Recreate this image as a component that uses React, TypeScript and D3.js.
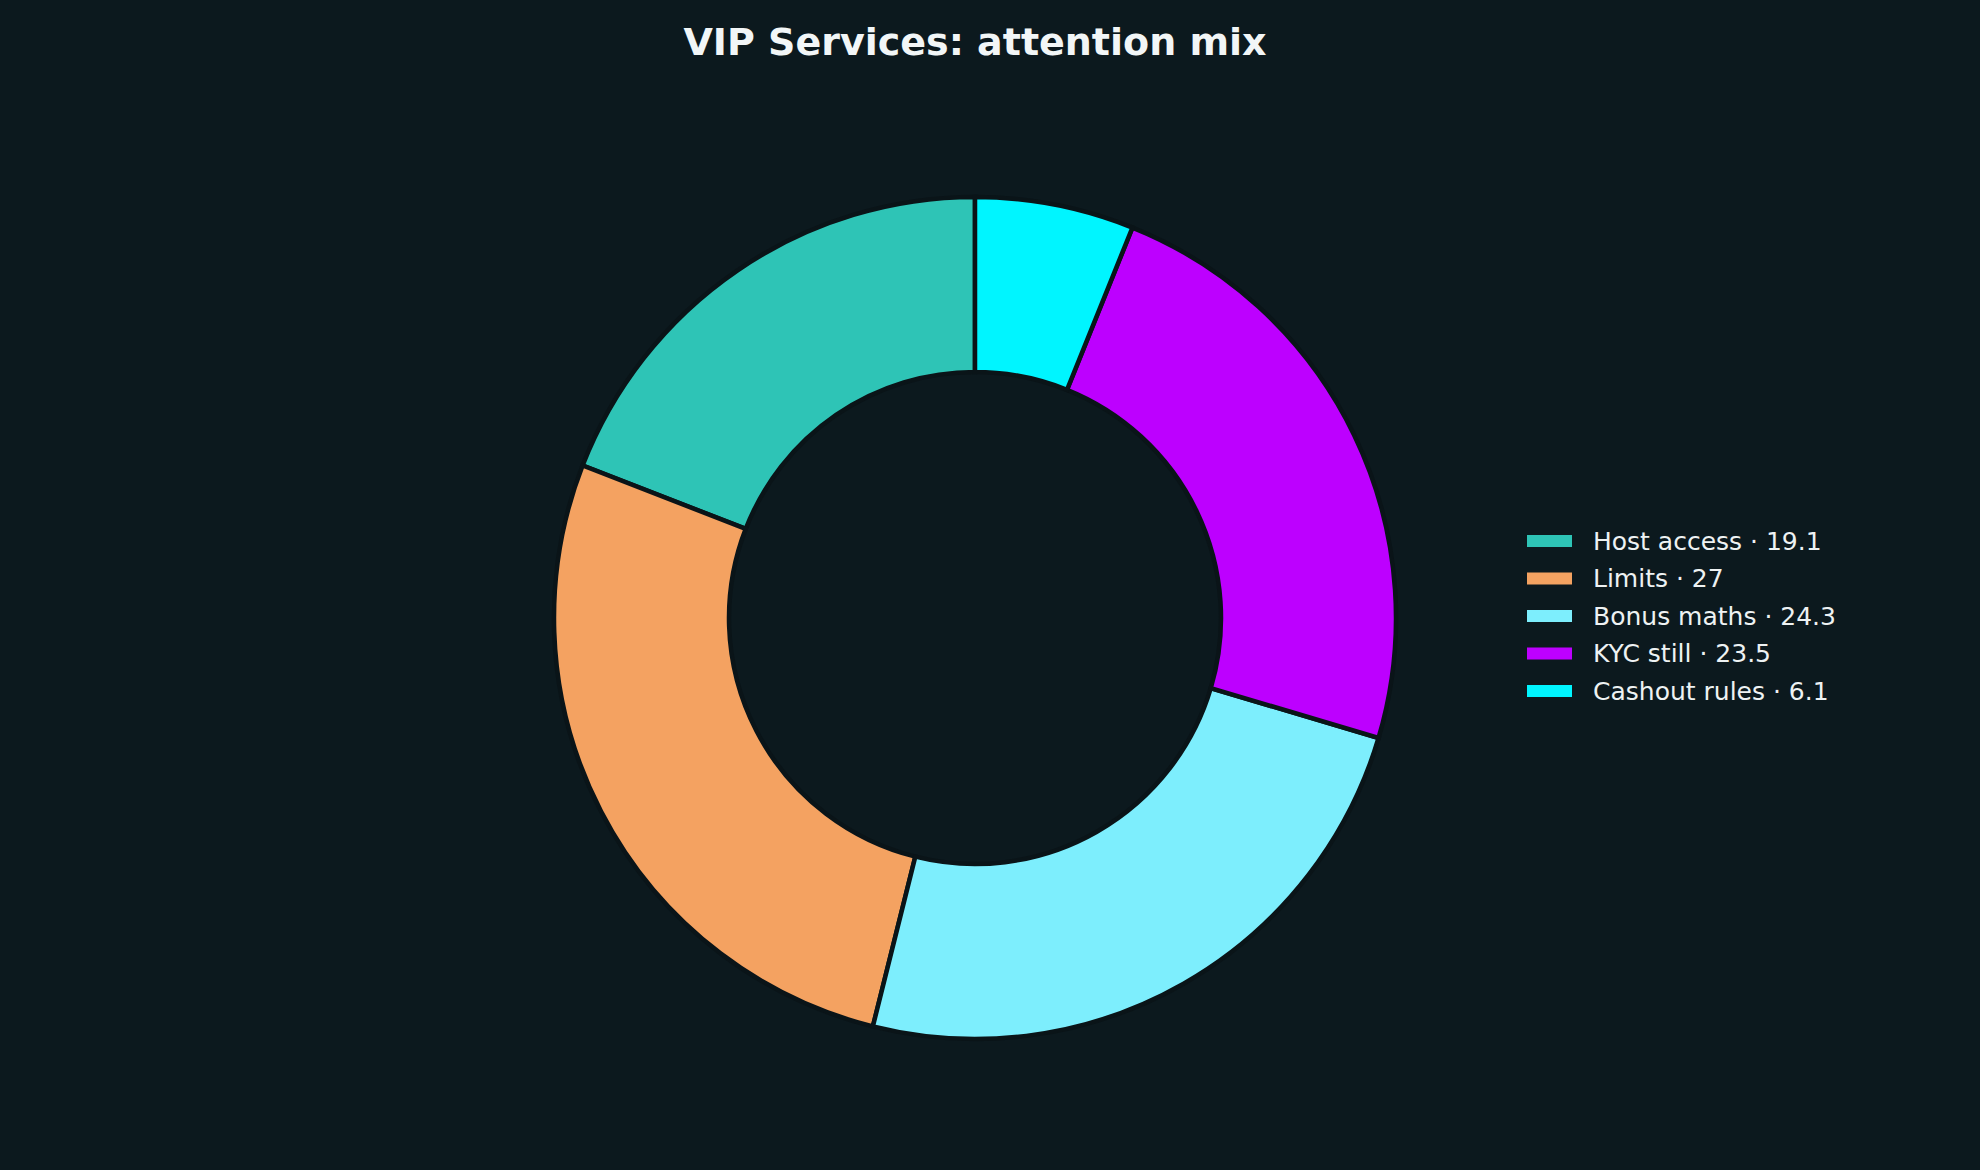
import React, { useEffect, useRef } from 'react';
import * as d3 from 'd3';

const categories = ['Host access', 'Limits', 'Bonus maths', 'KYC still', 'Cashout rules'];
const values = [19.1, 27, 24.3, 23.5, 6.1];
const colors = ['#2ec4b6', '#f4a261', '#7deefd', '#bd00ff', '#00f5ff'];
const title = 'VIP Services: attention mix';

const W = 1980;
const H = 1170;
const BG = '#0c191e';

export default function App() {
  const svgRef = useRef<SVGSVGElement>(null);

  useEffect(() => {
    if (!svgRef.current) return;
    const svg = d3.select(svgRef.current);
    svg.selectAll('*').remove();

    svg.append('rect').attr('width', W).attr('height', H).attr('fill', BG);

    svg.append('text')
      .attr('x', 975)
      .attr('y', 42)
      .attr('text-anchor', 'middle')
      .attr('dominant-baseline', 'central')
      .attr('font-family', 'DejaVu Sans')
      .attr('font-weight', 'bold')
      .attr('font-size', 38)
      .attr('fill', '#f2f6f7')
      .text(title);

    const cx = 975;
    const cy = 618;
    const outerR = 421;
    const innerR = 246;

    const data = categories.map((c, i) => ({ name: c, value: values[i], color: colors[i] }));

    // counterclockwise from 12 o'clock
    const pie = d3.pie<typeof data[number]>()
      .value(d => d.value)
      .sort(null)
      .startAngle(0)
      .endAngle(-2 * Math.PI);

    const arc = d3.arc<d3.PieArcDatum<typeof data[number]>>()
      .innerRadius(innerR)
      .outerRadius(outerR);

    const g = svg.append('g').attr('transform', `translate(${cx},${cy})`);
    g.selectAll('path')
      .data(pie(data))
      .enter()
      .append('path')
      .attr('d', arc)
      .attr('fill', d => d.data.color)
      .attr('stroke', '#0a1418')
      .attr('stroke-width', 4.5)
      .attr('stroke-linejoin', 'miter');

    // Legend
    const legend = svg.append('g').attr('transform', 'translate(1527,541)');
    const rowH = 37.5;
    data.forEach((d, i) => {
      const row = legend.append('g').attr('transform', `translate(0,${i * rowH})`);
      row.append('rect')
        .attr('x', 0)
        .attr('y', -6)
        .attr('width', 45)
        .attr('height', 12)
        .attr('fill', d.color);
      row.append('text')
        .attr('x', 66)
        .attr('y', 0)
        .attr('dominant-baseline', 'central')
        .attr('font-family', 'DejaVu Sans')
        .attr('font-size', 25)
        .attr('fill', '#eef2f3')
        .text(`${d.name} · ${d.value}`);
    });
  }, []);

  return (
    <svg
      ref={svgRef}
      width={W}
      height={H}
      style={{ position: 'fixed', left: 0, top: 0, display: 'block' }}
    />
  );
}
